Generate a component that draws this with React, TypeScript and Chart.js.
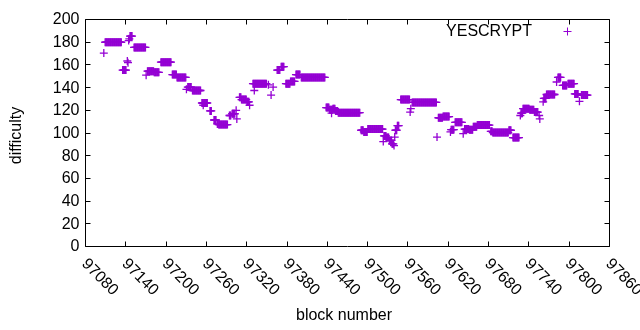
import { useEffect, useRef } from 'react';
import { Chart, registerables } from 'chart.js';

Chart.register(...registerables);

const SERIES_LABEL = 'YESCRYPT';
const X_TITLE = 'block number';
const Y_TITLE = 'difficulty';
const X_TICKS = [97080, 97140, 97200, 97260, 97320, 97380, 97440, 97500, 97560, 97620, 97680, 97740, 97800, 97860];
const Y_TICKS = [0, 20, 40, 60, 80, 100, 120, 140, 160, 180, 200];

// runs of consecutive blocks sharing one difficulty value
const RUN_START = [
  97108, 97110, 97136, 97143, 97144, 97145, 97146, 97147, 97153, 97171,
  97173, 97183, 97193, 97210, 97217, 97231, 97233, 97240, 97254, 97256,
  97266, 97272, 97277, 97279, 97295, 97299, 97305, 97306, 97310, 97313,
  97321, 97325, 97330, 97332, 97353, 97357, 97360, 97366, 97372, 97379,
  97386, 97394, 97402, 97439, 97444, 97447, 97449, 97453, 97457, 97491,
  97495, 97501, 97524, 97525, 97529, 97533, 97537, 97540, 97541, 97542,
  97545, 97550, 97564, 97565, 97567, 97604, 97606, 97613, 97624, 97625,
  97631, 97643, 97645, 97652, 97658, 97664, 97684, 97687, 97711, 97717,
  97728, 97729, 97732, 97742, 97749, 97756, 97757, 97762, 97763, 97767,
  97782, 97784, 97791, 97799, 97809, 97816, 97819,
];
const RUN_END = [
  97108, 97134, 97141, 97143, 97144, 97145, 97146, 97150, 97170, 97171,
  97182, 97190, 97208, 97216, 97230, 97231, 97238, 97252, 97262, 97256,
  97268, 97275, 97277, 97292, 97297, 97303, 97305, 97306, 97312, 97320,
  97324, 97325, 97350, 97332, 97353, 97357, 97360, 97370, 97376, 97385,
  97392, 97400, 97437, 97443, 97448, 97447, 97452, 97456, 97489, 97494,
  97500, 97523, 97524, 97528, 97532, 97536, 97539, 97540, 97541, 97544,
  97547, 97563, 97564, 97565, 97603, 97604, 97612, 97622, 97624, 97629,
  97641, 97643, 97651, 97657, 97663, 97682, 97686, 97710, 97714, 97726,
  97728, 97731, 97741, 97748, 97754, 97756, 97757, 97762, 97766, 97779,
  97782, 97788, 97797, 97808, 97814, 97816, 97828,
];
const RUN_VALUE = [
  170, 179.5, 155, 163, 161.5, 181, 182.5, 185, 175, 150.5,
  154, 153, 162, 151, 148.5, 138, 140, 137, 126, 124,
  119, 111, 107.5, 107, 115, 116.5, 119.5, 112, 131, 129,
  127, 124, 143, 137, 142, 133, 140, 155, 158, 143,
  145, 151, 148.5, 122, 120, 117, 121, 119, 117.5, 102,
  100.5, 103, 92, 97, 95.5, 93, 90, 88.5, 96, 102,
  106, 129, 118, 121, 126.5, 96, 113, 114, 100.5, 102.5,
  109, 99, 103, 102.5, 105, 106.5, 101, 100, 102, 95.5,
  115, 117, 121, 120, 118, 115, 112, 127, 130, 133.5,
  144.5, 148.5, 141.5, 143, 134, 127.5, 133,
];

const COLOR = '#9400d3';
const FONT = '16px "Liberation Sans", Arial, sans-serif';

function buildPoints() {
  const pts: { x: number; y: number }[] = [];
  for (let i = 0; i < RUN_START.length; i++) {
    for (let b = RUN_START[i]; b <= RUN_END[i]; b++) pts.push({ x: b, y: RUN_VALUE[i] });
  }
  return pts;
}

const framePlugin = {
  id: 'gnuFrame',
  afterDraw(chart: any) {
    const { ctx, chartArea } = chart;
    const xs = chart.scales.x;
    const ys = chart.scales.y;
    const L = Math.round(chartArea.left) + 0.5;
    const R = Math.round(chartArea.right) + 0.5;
    const T = Math.round(chartArea.top) + 0.5;
    const B = Math.round(chartArea.bottom) + 0.5;
    const TL = 5;
    ctx.save();
    ctx.strokeStyle = '#000';
    ctx.lineWidth = 1;
    ctx.beginPath();
    ctx.rect(L, T, R - L, B - T);
    for (const t of X_TICKS) {
      const px = Math.round(xs.getPixelForValue(t)) + 0.5;
      ctx.moveTo(px, B);
      ctx.lineTo(px, B - TL);
      ctx.moveTo(px, T);
      ctx.lineTo(px, T + TL);
    }
    for (const t of Y_TICKS) {
      const py = Math.round(ys.getPixelForValue(t)) + 0.5;
      ctx.moveTo(L, py);
      ctx.lineTo(L + TL, py);
      ctx.moveTo(R, py);
      ctx.lineTo(R - TL, py);
    }
    ctx.stroke();

    ctx.fillStyle = '#000';
    ctx.font = FONT;
    ctx.textAlign = 'right';
    ctx.textBaseline = 'middle';
    for (const t of Y_TICKS) {
      ctx.fillText(String(t), L - 6, ys.getPixelForValue(t) + 1);
    }
    ctx.textAlign = 'left';
    for (const t of X_TICKS) {
      const px = xs.getPixelForValue(t);
      ctx.save();
      ctx.translate(px - 1, B + 15);
      ctx.rotate(Math.PI / 4);
      ctx.fillText(String(t), 0, 0);
      ctx.restore();
    }
    ctx.textAlign = 'center';
    ctx.fillText(X_TITLE, (chartArea.left + chartArea.right) / 2 - 3, 316);
    ctx.save();
    ctx.translate(17, (chartArea.top + chartArea.bottom) / 2 + 3);
    ctx.rotate(-Math.PI / 2);
    ctx.fillText(Y_TITLE, 0, 0);
    ctx.restore();

    // key
    ctx.textAlign = 'right';
    ctx.fillText(SERIES_LABEL, 532, 32);
    ctx.strokeStyle = COLOR;
    ctx.beginPath();
    ctx.moveTo(567.5 - 4, 31.5);
    ctx.lineTo(567.5 + 4, 31.5);
    ctx.moveTo(567.5, 27.5);
    ctx.lineTo(567.5, 35.5);
    ctx.stroke();
    ctx.restore();
  },
};

export default function App() {
  const ref = useRef<HTMLCanvasElement | null>(null);
  useEffect(() => {
    if (!ref.current) return;
    const chart = new Chart(ref.current, {
      type: 'scatter',
      data: {
        datasets: [
          {
            label: SERIES_LABEL,
            data: buildPoints(),
            pointStyle: 'cross',
            pointRadius: 4,
            pointBorderWidth: 1.3,
            borderColor: COLOR,
            backgroundColor: COLOR,
            pointHoverRadius: 4,
          },
        ],
      },
      options: {
        responsive: false,
        animation: false,
        devicePixelRatio: 1,
        events: [],
        layout: { padding: { left: 85, right: 31, top: 19, bottom: 84 } },
        scales: {
          x: { type: 'linear', display: false, min: 97080, max: 97860 },
          y: { type: 'linear', display: false, min: 0, max: 200 },
        },
        plugins: { legend: { display: false }, tooltip: { enabled: false } },
      },
      plugins: [framePlugin],
    });
    return () => chart.destroy();
  }, []);
  return (
    <div style={{ position: 'absolute', left: 0, top: 0, width: 640, height: 330, background: '#fff' }}>
      <canvas ref={ref} width={640} height={330} style={{ display: 'block' }} />
    </div>
  );
}
